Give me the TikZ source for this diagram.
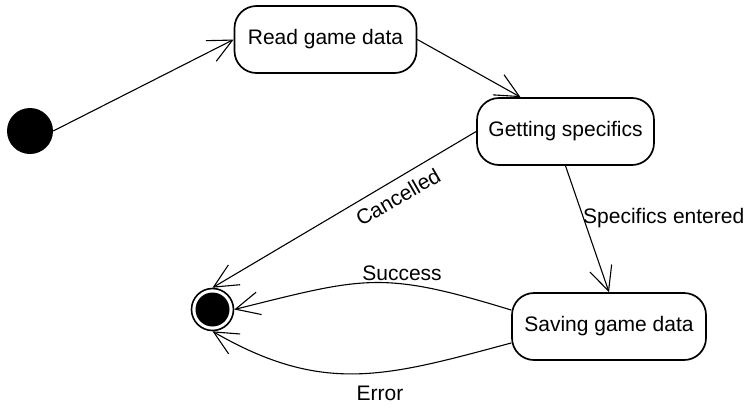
\documentclass[tikz,border=0pt]{standalone}
\usepackage{fontspec}
\setmainfont{Liberation Sans}
\usetikzlibrary{arrows.meta}
\begin{document}
\begin{tikzpicture}[x=1pt,y=1pt,
  txt/.style={font=\fontsize{21pt}{25pt}\selectfont, inner sep=0pt},
  state/.style={draw, line width=1.7pt, rounded corners=22pt, txt},
  trans/.style={line width=1.1pt, -{Straight Barb[length=24pt,width=23pt,line width=1.1pt]}},
  lbl/.style={txt}]
  \useasboundingbox (0,0) rectangle (746,-410);

  % initial and final pseudo-states
  \node[circle, fill=black, minimum size=46pt, inner sep=0pt] (init) at (30,-131) {};
  \node[circle, draw, line width=1.6pt, minimum size=42pt, inner sep=0pt] (fin) at (212.5,-309.5) {};
  \fill (fin.center) circle (17pt);

  % states
  \node[state, minimum width=182pt, minimum height=67pt] (read) at (325.5,-39.5) {Read game data};
  \node[state, minimum width=177pt, minimum height=67pt] (get) at (565.5,-131.5) {Getting specifics};
  \node[state, minimum width=194pt, minimum height=67pt] (sav) at (609,-326.5) {Saving game data};

  % transitions
  \draw[trans] (init.east) -- (read.west);
  \draw[trans] (read.east) -- ([xshift=-45pt]get.north);
  \draw[trans] (get.south) -- (sav.north);
  \draw[trans] (get.west) -- (fin.north);
  \draw[trans] ([yshift=16.5pt]sav.west) to[out=163, in=14, looseness=1.25] (fin.east);
  \draw[trans] ([yshift=-16.5pt]sav.west) to[out=195, in=-30, looseness=1.1] (fin.south);

  % transition labels
  \node[lbl, rotate=30] (lcan) at (398,-197) {Cancelled};
  \node[lbl, anchor=west] (lspec) at (583,-218) {Specifics entered};
  \node[lbl] (lsuc) at (402,-273) {Success};
  \node[lbl] (lerr) at (380,-393) {Error};
\end{tikzpicture}
\end{document}
